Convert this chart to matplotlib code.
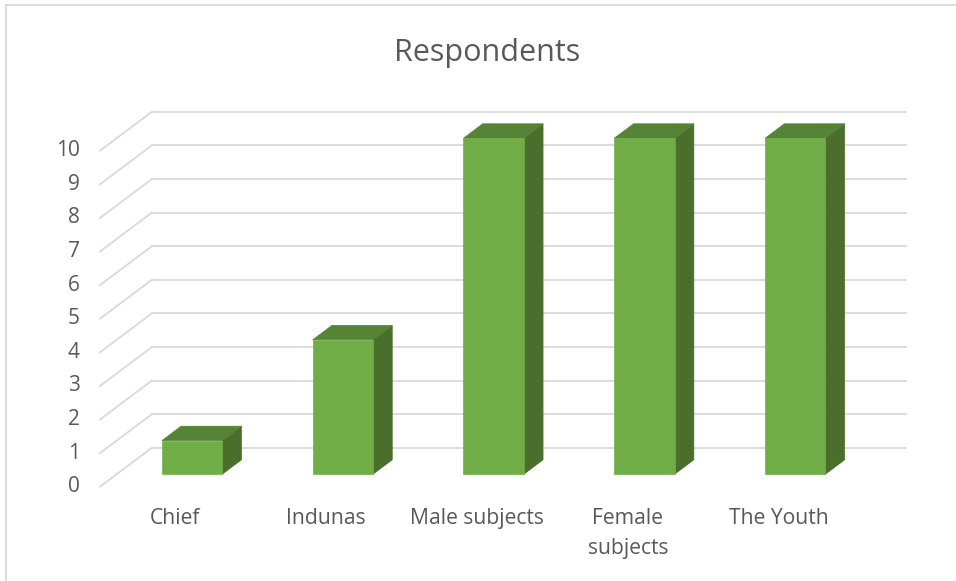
import matplotlib
matplotlib.use("Agg")
import matplotlib.pyplot as plt
from matplotlib.patches import Polygon
from matplotlib.lines import Line2D

# ---- data ----
categories = ["Chief", "Indunas", "Male subjects", "Female\nsubjects", "The Youth"]
values = [1, 4, 10, 10, 10]
y_ticks = list(range(0, 11))
title = "Respondents"

# ---- styling ----
FONT = "Open Sans"
TEXT_COLOR = "#595959"
GRID_COLOR = "#D9D9D9"
FRONT_COLOR = "#70AD47"
TOP_COLOR = "#568437"
SIDE_COLOR = "#4A6E2B"

W, H, DPI = 956, 581, 100
fig = plt.figure(figsize=(W / DPI, H / DPI), dpi=DPI)
ax = fig.add_axes([0, 0, 1, 1])
ax.set_axis_off()

# oblique 3-D geometry in data units (x: category slots, y: values)
SLOT_PX = 150.8          # pixel width of one category slot
UNIT_PX = 33.6           # pixel height of one value unit
X0_PX = 100.0            # left edge of the floor's front edge
Y0_PX = H - 486.7        # value 0 at the front, pixels from bottom
DX = 52.0 / SLOT_PX      # depth shift (x) from front to back wall
DY = 39.0 / UNIT_PX      # depth shift (y) from front to back wall
F0, F1 = 0.32, 0.69      # bar depth span (fraction of floor depth)
BAR_W = 0.40             # bar width as a fraction of a slot

ax.set_xlim(-0.5 - X0_PX / SLOT_PX, -0.5 + (W - X0_PX) / SLOT_PX)
ax.set_ylim(-Y0_PX / UNIT_PX, (H - Y0_PX) / UNIT_PX)

n = len(categories)
left, right = -0.5, n - 0.5

# back wall gridlines and left wall diagonals
for v in y_ticks:
    ax.add_line(Line2D([left + DX, right + DX], [v + DY, v + DY],
                       color=GRID_COLOR, lw=1.3, zorder=1))
    ax.add_line(Line2D([left, left + DX], [v, v + DY],
                       color=GRID_COLOR, lw=1.3, zorder=1))
    ax.text(left - 20.0 / SLOT_PX, v, str(v), ha="right", va="center",
            fontsize=15, color=TEXT_COLOR, family=FONT)

# 3-D columns
for i, v in enumerate(values):
    x0, x1 = i - BAR_W / 2, i + BAR_W / 2
    a0x, a0y = F0 * DX, F0 * DY
    a1x, a1y = F1 * DX, F1 * DY
    front = [(x0 + a0x, a0y), (x1 + a0x, a0y), (x1 + a0x, v + a0y), (x0 + a0x, v + a0y)]
    top = [(x0 + a0x, v + a0y), (x1 + a0x, v + a0y), (x1 + a1x, v + a1y), (x0 + a1x, v + a1y)]
    side = [(x1 + a0x, a0y), (x1 + a1x, a1y), (x1 + a1x, v + a1y), (x1 + a0x, v + a0y)]
    for pts, col in ((side, SIDE_COLOR), (top, TOP_COLOR), (front, FRONT_COLOR)):
        ax.add_patch(Polygon(pts, closed=True, facecolor=col, edgecolor=col,
                             lw=0.5, zorder=3))

# category labels along the floor's front edge
for i, lab in enumerate(categories):
    ax.text(i, -21.5 / UNIT_PX, lab, ha="center", va="top", fontsize=15.2,
            color=TEXT_COLOR, family=FONT, linespacing=1.55)

# title
fig.text(487 / W, 1 - 53 / H, title, ha="center", va="center",
         fontsize=22, color=TEXT_COLOR, family=FONT)

# chart area border (top and left edges)
fig.add_artist(Line2D([6 / W, 1], [1 - 5 / H, 1 - 5 / H], transform=fig.transFigure,
                      color=GRID_COLOR, lw=1.3))
fig.add_artist(Line2D([6 / W, 6 / W], [0, 1 - 5 / H], transform=fig.transFigure,
                      color=GRID_COLOR, lw=1.3))

fig.savefig("out.png", dpi=DPI, facecolor="white")
